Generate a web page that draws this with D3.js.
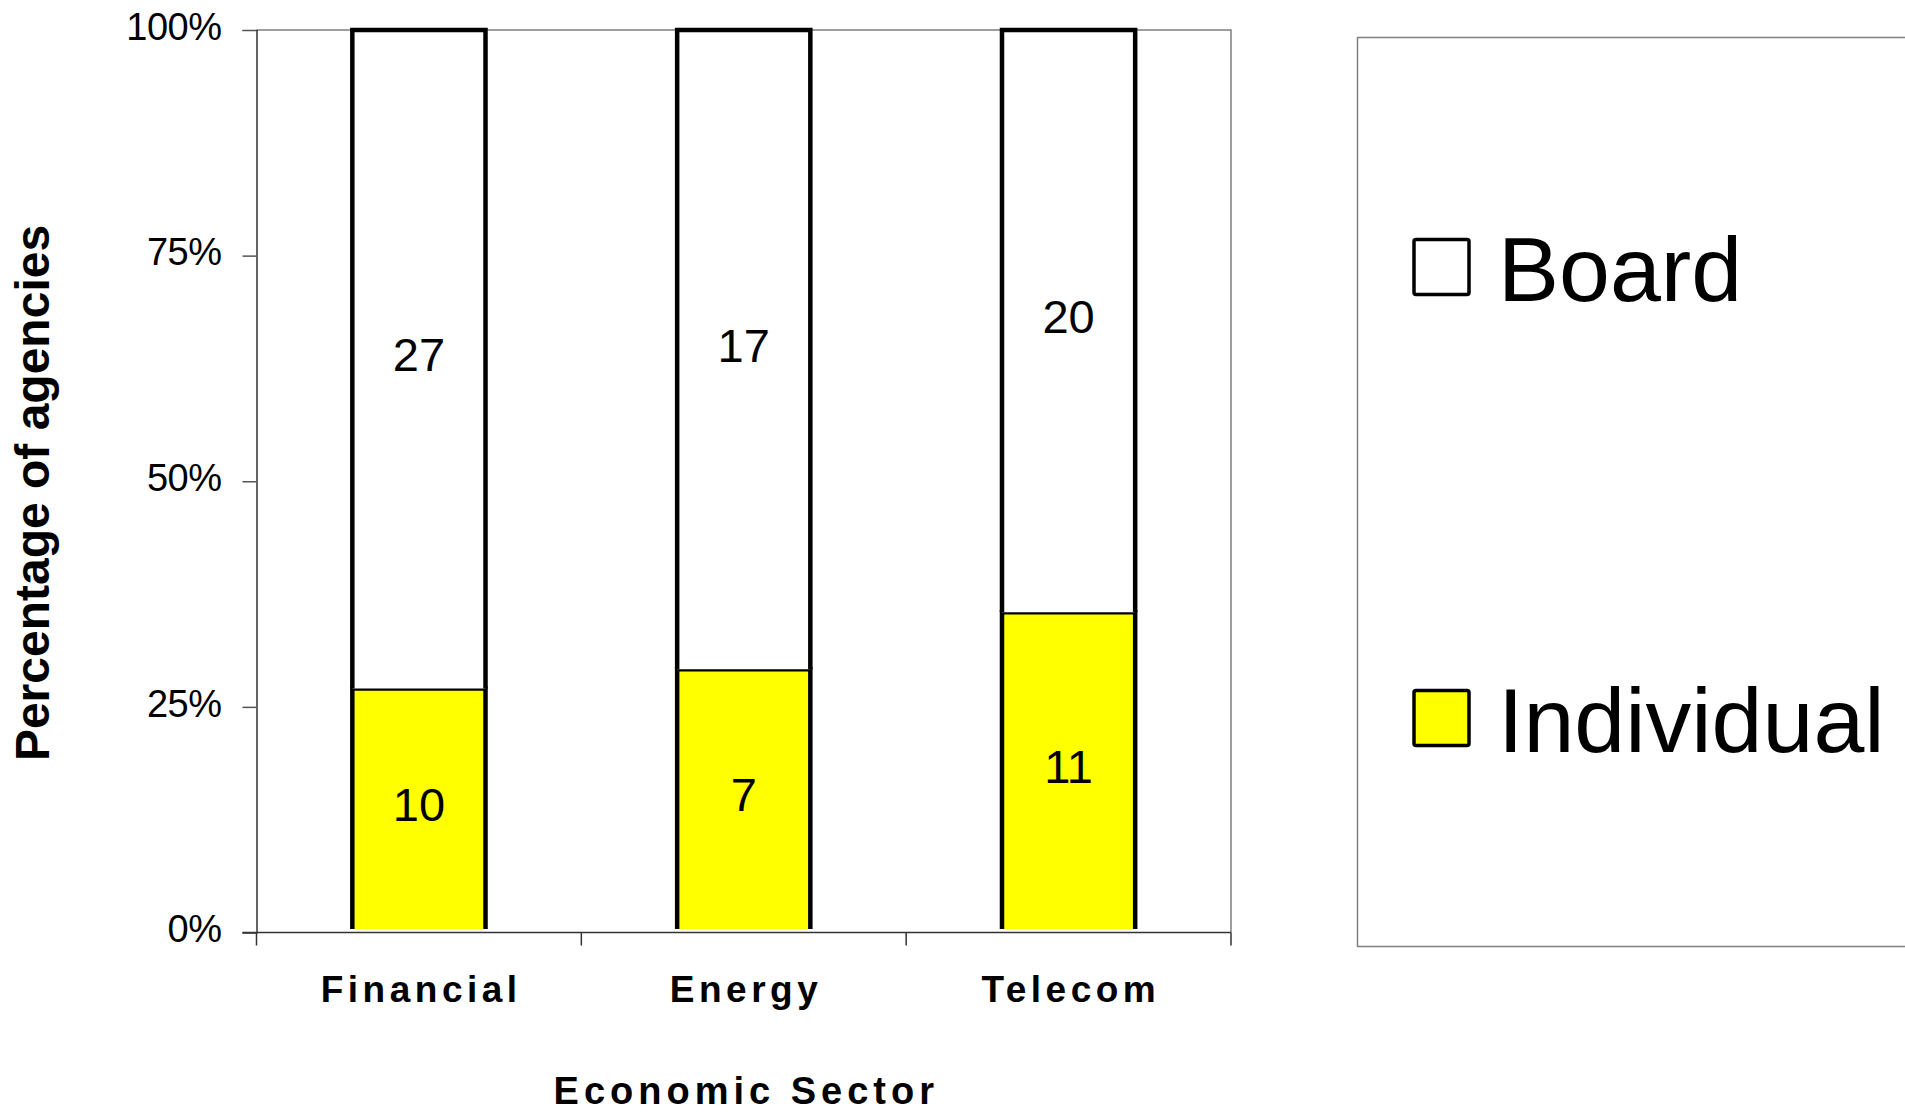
<!DOCTYPE html>
<html>
<head>
<meta charset="utf-8">
<script src="https://cdn.jsdelivr.net/npm/d3@7"></script>
<style>
  html, body { margin: 0; padding: 0; background: #ffffff; }
  svg { display: block; font-family: "Liberation Sans", Arial, Helvetica, sans-serif; }
</style>
</head>
<body>
<svg id="chart" width="1905" height="1114"></svg>
<script>
// Agencies by decision-making structure in each economic sector
const categories = ["Financial", "Energy", "Telecom"];
const individual = [10, 7, 11];
const board = [27, 17, 20];
const seriesNames = ["Individual", "Board"];
const seriesColors = ["#ffff00", "#ffffff"];
const yTicks = [0, 0.25, 0.5, 0.75, 1];
const yTitle = "Percentage of agencies";
const xTitle = "Economic Sector";

const svg = d3.select("#chart");

const plot = { left: 256.5, right: 1231, top: 30, bottom: 932.5 };

const rows = categories.map((c, i) => ({ sector: c, Individual: individual[i], Board: board[i] }));
const stacked = d3.stack().keys(seriesNames).offset(d3.stackOffsetExpand)(rows);

const x = d3.scaleBand()
  .domain(categories)
  .range([plot.left, plot.right])
  .paddingInner(0.59)
  .paddingOuter(0.295);

const y = d3.scaleLinear().domain([0, 1]).range([plot.bottom, plot.top]);
const color = d3.scaleOrdinal().domain(seriesNames).range(seriesColors);

// plot area frame (top and right edges)
svg.append("path")
  .attr("d", `M${plot.left},${plot.top}H${plot.right}V${plot.bottom}`)
  .attr("fill", "none")
  .attr("stroke", "#7f7f7f")
  .attr("stroke-width", 1.5);

// y axis
const yAxis = svg.append("g")
  .attr("transform", `translate(${plot.left},0)`)
  .call(d3.axisLeft(y).tickValues(yTicks).tickFormat(d3.format(".0%")).tickSize(14).tickPadding(21));
yAxis.select(".domain").attr("stroke", "#000").attr("stroke-width", 1.2);
yAxis.selectAll(".tick line").attr("stroke", "#555").attr("stroke-width", 1.5);
yAxis.selectAll(".tick text")
  .attr("font-size", 38)
  .attr("font-family", "'Liberation Sans', Arial, sans-serif")
  .attr("fill", "#000")
  .attr("letter-spacing", -0.5)
  .attr("dy", "0.24em");

// x axis baseline and category separators
const xAxisG = svg.append("g").attr("transform", `translate(0,${plot.bottom})`);
xAxisG.append("line")
  .attr("x1", plot.left - 14).attr("x2", plot.right)
  .attr("stroke", "#333").attr("stroke-width", 1.5);
const sepScale = d3.scaleLinear().domain([0, categories.length]).range([plot.left, plot.right]);
const sepPositions = d3.range(categories.length + 1).map(i => sepScale(i));
xAxisG.selectAll("line.sep")
  .data(sepPositions)
  .join("line")
  .attr("class", "sep")
  .attr("x1", d => d).attr("x2", d => d)
  .attr("y1", 0).attr("y2", 13)
  .attr("stroke", "#333").attr("stroke-width", 1.5);

const xLabelSpacing = 4.5;
xAxisG.selectAll("text.cat")
  .data(categories)
  .join("text")
  .attr("class", "cat")
  .attr("x", d => x(d) + x.bandwidth() / 2 + xLabelSpacing / 2)
  .attr("y", 69)
  .attr("text-anchor", "middle")
  .attr("font-size", 37)
  .attr("font-weight", "bold")
  .attr("letter-spacing", xLabelSpacing)
  .text(d => d);

// stacked bars
const barBase = y(0) - 3.5;
const layers = svg.append("g").selectAll("g.layer")
  .data(stacked)
  .join("g")
  .attr("class", "layer");

layers.selectAll("path")
  .data(layer => layer.map(d => ({ key: layer.key, d })))
  .join("path")
  .attr("d", ({ d }) => {
    const x0 = x(d.data.sector), x1 = x0 + x.bandwidth();
    const yb = Math.min(y(d[0]), barBase), yt = y(d[1]);
    return `M${x0},${yb}V${yt}H${x1}V${yb}`;
  })
  .attr("fill", ({ key }) => color(key))
  .attr("stroke", "#000")
  .attr("stroke-width", 4.5)
  .attr("stroke-linejoin", "miter");

// segment counts
layers.selectAll("text")
  .data(layer => layer.map(d => ({ key: layer.key, d })))
  .join("text")
  .attr("x", ({ d }) => x(d.data.sector) + x.bandwidth() / 2)
  .attr("y", ({ d }) => (Math.min(y(d[0]), barBase) + y(d[1])) / 2 + 12)
  .attr("text-anchor", "middle")
  .attr("font-size", 47)
  .attr("fill", "#000")
  .text(({ key, d }) => d.data[key]);

// axis titles
svg.append("text")
  .attr("transform", `translate(49,493) rotate(-90)`)
  .attr("text-anchor", "middle")
  .attr("font-size", 48)
  .attr("font-weight", "bold")
  .text(yTitle);

const titleSpacing = 5;
svg.append("text")
  .attr("x", (plot.left + plot.right) / 2 + titleSpacing / 2)
  .attr("y", 1104)
  .attr("text-anchor", "middle")
  .attr("font-size", 38)
  .attr("font-weight", "bold")
  .attr("letter-spacing", titleSpacing)
  .text(xTitle);

// legend
const legend = svg.append("g");
legend.append("rect")
  .attr("x", 1357.5).attr("y", 37.5)
  .attr("width", 600).attr("height", 909)
  .attr("fill", "none")
  .attr("stroke", "#7f7f7f")
  .attr("stroke-width", 1.5);

const legendOrder = seriesNames.slice().reverse();
const legendY = d3.scalePoint().domain(legendOrder).range([267, 718]);
const swatch = 55;
const items = legend.selectAll("g.item")
  .data(legendOrder)
  .join("g")
  .attr("class", "item")
  .attr("transform", d => `translate(1414,${legendY(d)})`);
items.append("rect")
  .attr("x", 0).attr("y", -swatch / 2)
  .attr("width", swatch).attr("height", swatch)
  .attr("rx", 2)
  .attr("fill", d => color(d))
  .attr("stroke", "#000")
  .attr("stroke-width", 3.5);
items.append("text")
  .attr("x", 84)
  .attr("y", 34)
  .attr("font-size", 91.5)
  .attr("fill", "#000")
  .text(d => d);
</script>
</body>
</html>
